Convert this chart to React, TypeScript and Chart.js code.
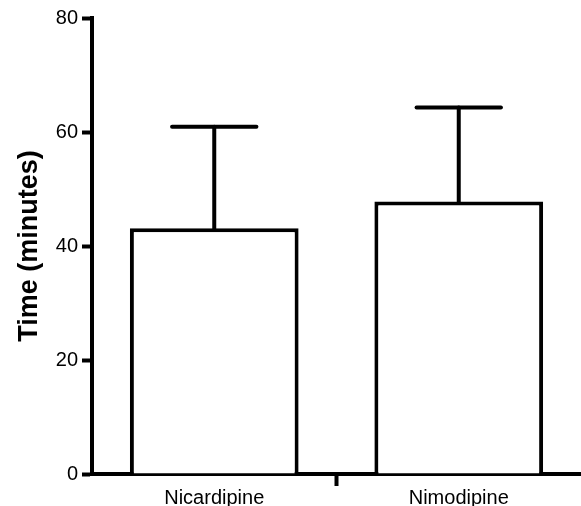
import React, { useEffect, useRef } from "react";
import { Chart, registerables } from "chart.js";

Chart.register(...registerables);

const categories = ["Nicardipine", "Nimodipine"];
const meanValues = [43.1, 47.8];
const sdValues = [17.8, 16.5];
const yTicks = [0, 20, 40, 60, 80];
const yTitle = "Time (minutes)";

const FONT = "'Liberation Sans', Arial, Helvetica, sans-serif";

const errorBarPlugin = {
  id: "errorBars",
  afterDatasetsDraw(chart: any) {
    const ctx = chart.ctx;
    const meta = chart.getDatasetMeta(0);
    const yScale = chart.scales.y;
    meta.data.forEach((bar: any, i: number) => {
      const topPx = yScale.getPixelForValue(meanValues[i] + sdValues[i]);
      const x = bar.x;
      const half = bar.width / 4;
      ctx.save();
      ctx.strokeStyle = "#000";
      ctx.lineWidth = 4;
      ctx.lineCap = "round";
      ctx.beginPath();
      ctx.moveTo(x, bar.y);
      ctx.lineTo(x, topPx);
      ctx.stroke();
      ctx.beginPath();
      ctx.moveTo(x - half, topPx);
      ctx.lineTo(x + half, topPx);
      ctx.stroke();
      ctx.restore();
    });
  },
};

export default function App() {
  const canvasRef = useRef<HTMLCanvasElement | null>(null);

  useEffect(() => {
    const canvas = canvasRef.current;
    if (!canvas) return;
    const chart = new Chart(canvas, {
      type: "bar",
      data: {
        labels: categories,
        datasets: [
          {
            data: meanValues,
            backgroundColor: "#ffffff",
            borderColor: "#000000",
            borderWidth: 4,
            borderSkipped: "bottom",
            barPercentage: 0.69,
            categoryPercentage: 1,
          },
        ],
      },
      options: {
        animation: false,
        responsive: false,
        maintainAspectRatio: false,
        devicePixelRatio: 1,
        layout: { padding: { top: 18, left: 0, right: 0, bottom: 0 } },
        plugins: {
          legend: { display: false },
          tooltip: { enabled: false },
        },
        scales: {
          x: {
            type: "category",
            offset: true,
            grid: {
              display: true,
              offset: true,
              drawOnChartArea: false,
              tickLength: 12,
              tickWidth: 4,
              tickColor: (c: any) => (c.index === 1 ? "#000000" : "rgba(0,0,0,0)"),
            },
            border: { display: true, color: "#000000", width: 4 },
            ticks: {
              color: "#000000",
              font: { family: FONT, size: 20 },
              padding: 0,
              maxRotation: 0,
            },
            afterFit: (scale: any) => {
              scale.height = 32;
            },
          },
          y: {
            min: 0,
            max: 80,
            afterBuildTicks: (scale: any) => {
              scale.ticks = yTicks.map((v) => ({ value: v }));
            },
            grid: {
              display: true,
              drawOnChartArea: false,
              tickLength: 10,
              tickWidth: 4,
              tickColor: "#000000",
            },
            border: { display: true, color: "#000000", width: 4 },
            ticks: {
              color: "#000000",
              font: { family: FONT, size: 20 },
              padding: 4,
            },
            title: {
              display: true,
              text: yTitle,
              color: "#000000",
              font: { family: FONT, size: 27, weight: "bold" },
              padding: { top: 13, bottom: 0 },
            },
            afterFit: (scale: any) => {
              scale.width = 92;
            },
          },
        },
      },
      plugins: [errorBarPlugin],
    });
    return () => chart.destroy();
  }, []);

  return (
    <div style={{ position: "fixed", left: 0, top: 0, width: 581, height: 506, background: "#fff" }}>
      <canvas ref={canvasRef} width={581} height={506} style={{ display: "block" }} />
    </div>
  );
}
